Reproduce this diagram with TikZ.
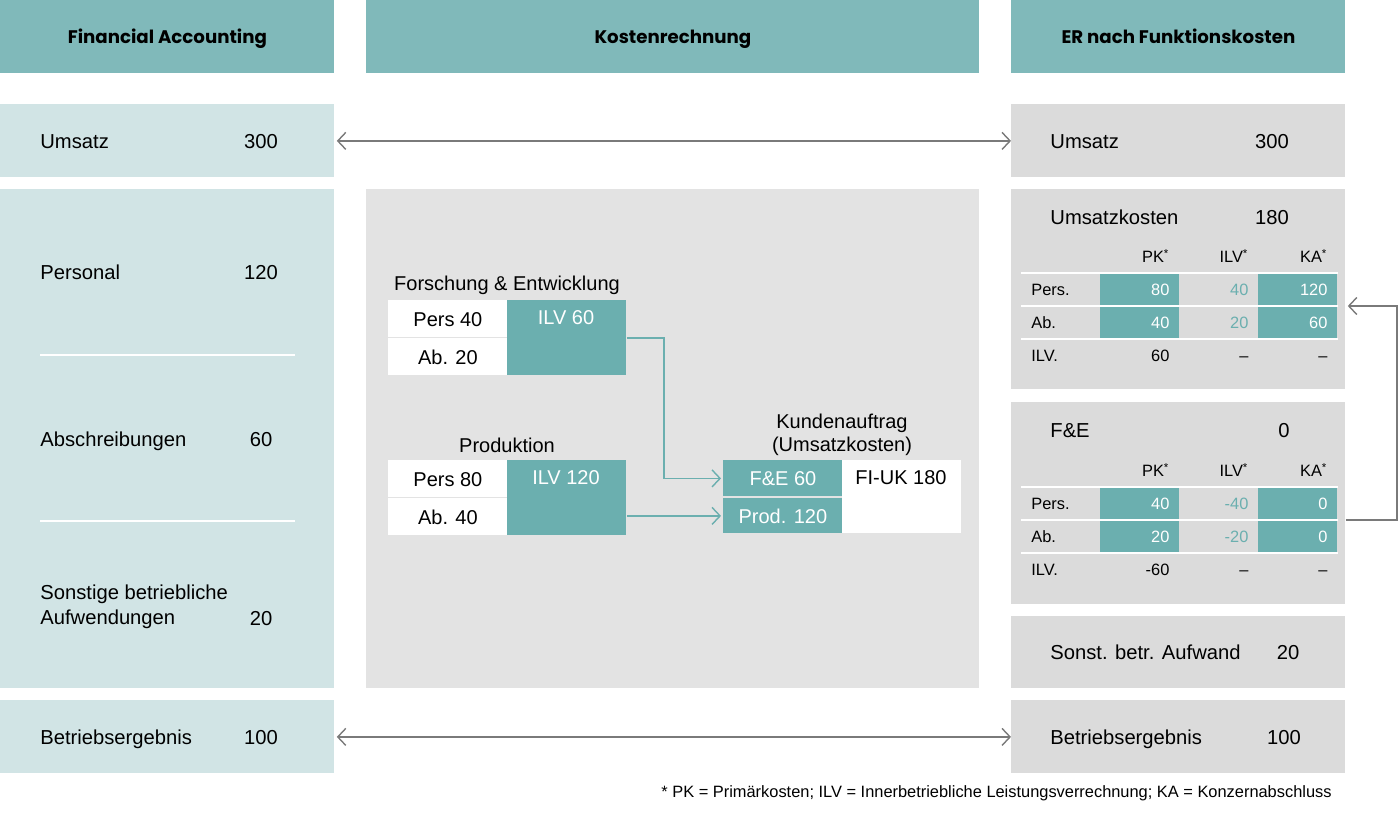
\documentclass[tikz,border=0pt]{standalone}
\usepackage{fontspec}
\setmainfont{Liberation Sans}
\newfontfamily\headfont{Poppins}
\usetikzlibrary{arrows.meta,matrix}
\definecolor{headteal}{HTML}{80B9BA}
\definecolor{paleteal}{HTML}{D1E4E5}
\definecolor{cellteal}{HTML}{6BAFAF}
\definecolor{panelgray}{HTML}{DBDBDB}
\definecolor{midgray}{HTML}{E3E3E3}
\definecolor{linkgray}{HTML}{7A7A7A}
\tikzset{
  box/.style={inner sep=0pt, anchor=north west, minimum width=167pt},
  head/.style={box, fill=headteal, minimum height=36.5pt, text height=6.4pt, text depth=0pt, font=\headfont\bfseries\fontsize{9.1}{10}\selectfont},
  fabox/.style={box, fill=paleteal},
  erbox/.style={box, fill=panelgray},
  itemtxt/.style={inner sep=0pt, anchor=west, text height=7.3pt, text depth=0pt, font=\fontsize{10.1}{12}\selectfont},
  valtxt/.style={inner sep=0pt, text height=7.3pt, text depth=0pt, font=\fontsize{10.1}{12}\selectfont},
  midtxt/.style={inner sep=0pt, font=\fontsize{10}{11.5}\selectfont, align=center},
  whitecell/.style={box, fill=white, minimum width=59.5pt, minimum height=18.5pt, text height=7.2pt, text depth=0pt, font=\fontsize{10}{12}\selectfont},
  tealcell/.style={box, fill=cellteal, text=white, minimum width=59.5pt, font=\fontsize{10}{12}\selectfont},
  sepline/.style={white, line width=1pt},
  tcell/.style={inner xsep=5pt, inner ysep=0pt, text width=29.5pt, align=right, minimum height=16.5pt, text height=5.9pt, text depth=0pt, font=\fontsize{8.2}{10}\selectfont},
  kcell/.style={fill=cellteal, text=white},
  icell/.style={text=cellteal},
  tab/.style={matrix of nodes, anchor=north west, inner sep=0pt, column sep=0pt, row sep=0pt, nodes={tcell}, column 1/.style={nodes={align=left}}},
  link/.style={linkgray, line width=0.7pt, {Straight Barb[length=4pt,width=8.5pt]}-{Straight Barb[length=4pt,width=8.5pt]}, shorten <=1pt},
  back/.style={linkgray, line width=0.7pt, -{Straight Barb[length=4pt,width=8.5pt]}, shorten >=1pt},
  flow/.style={cellteal, line width=0.7pt, -{Straight Barb[length=4pt,width=8.5pt]}, shorten >=1pt}
}

\begin{document}
\begin{tikzpicture}[x=0.5pt, y=-0.5pt]
  \useasboundingbox (0,0) rectangle (1400,815);
  % column heads
  \node[head] (fahead) at (0,0) {Financial Accounting};
  \node[head, minimum width=306.5pt] (krhead) at (366,0) {Kostenrechnung};
  \node[head] (erhead) at (1011,0) {ER nach Funktionskosten};

  % financial accounting
  \node[fabox, minimum height=36.5pt] (faumsatz) at (0,104) {};
  \node[itemtxt] (faumsatzlbl) at (40,141) {Umsatz};
  \node[valtxt] (faumsatzval) at (261,141) {300};
  \node[fabox, minimum height=249.5pt] (fakosten) at (0,189) {};
  \node[itemtxt] (fapers) at (40,272) {Personal};
  \node[valtxt] (fapersval) at (261,272) {120};
  \draw[sepline] (40,355) -- (295,355);
  \node[itemtxt] (faab) at (40,439) {Abschreibungen};
  \node[valtxt] (faabval) at (261,439) {60};
  \draw[sepline] (40,521) -- (295,521);
  \node[inner sep=0pt, anchor=west, align=left, font=\fontsize{10.1}{12.5}\selectfont] (fasonst) at (40,607) {Sonstige betriebliche\\Aufwendungen};
  \node[valtxt] (fasonstval) at (261,618) {20};
  \node[fabox, minimum height=36.5pt] (faergebnis) at (0,700) {};
  \node[itemtxt] (faergebnislbl) at (40,737) {Betriebsergebnis};
  \node[valtxt] (faergebnisval) at (261,737) {100};

  % Kostenrechnung
  \node[box, fill=midgray, minimum width=306.5pt, minimum height=249.5pt] (krpanel) at (366,189) {};
  \node[midtxt] (fetitle) at (507,285) {Forschung \& Entwicklung};
  \node[whitecell] (fepers) at (388,300) {Pers 40};
  \node[whitecell] (feab) at (388,338) {Ab. 20};
  \node[tealcell, minimum height=37.5pt] (feilv) at (507,300) {};
  \node[midtxt, text=white] (feilvtxt) at (566,318) {ILV 60};
  \node[midtxt] (prtitle) at (507,445) {Produktion};
  \node[whitecell] (prpers) at (388,460) {Pers 80};
  \node[whitecell] (prab) at (388,498) {Ab. 40};
  \node[tealcell, minimum height=37.5pt] (prilv) at (507,460) {};
  \node[midtxt, text=white] (prilvtxt) at (566,478) {ILV 120};
  \node[midtxt] (katitle) at (842,435) {Kundenauftrag\\(Umsatzkosten)};
  \node[tealcell, minimum height=18pt] (kafe) at (723,460) {F\&E 60};
  \node[tealcell, minimum height=17.5pt] (kaprod) at (723,498) {Prod. 120};
  \node[box, fill=white, minimum width=59.5pt, minimum height=36.5pt] (kauk) at (842,460) {};
  \node[midtxt] (kauktxt) at (901,478) {FI-UK 180};
  \draw[flow] (feilv.east) -- ++(37,0) |- (kafe.west);
  \draw[flow] (kaprod.west -| prilv.east) -- (kaprod.west);

  % ER nach Funktionskosten
  \node[erbox, minimum height=36.5pt] (erumsatz) at (1011,104) {};
  \node[itemtxt] (erumsatzlbl) at (1050,141) {Umsatz};
  \node[valtxt] (erumsatzval) at (1272,141) {300};
  \node[erbox, minimum height=100pt] (eruk) at (1011,189) {};
  \node[itemtxt] (eruklbl) at (1050,217) {Umsatzkosten};
  \node[valtxt] (erukval) at (1272,217) {180};
  \matrix (uktab) [tab] at (1021,240) {
    & PK\textsuperscript{*} & ILV\textsuperscript{*} & KA\textsuperscript{*} \\
    Pers. & |[kcell]| 80 & |[icell]| 40 & |[kcell]| 120 \\
    Ab. & |[kcell]| 40 & |[icell]| 20 & |[kcell]| 60 \\
    ILV. & 60 & -- & -- \\
  };
  \draw[sepline] (uktab-2-1.north west) -- (uktab-2-4.north east);
  \draw[sepline] (uktab-3-1.north west) -- (uktab-3-4.north east);
  \draw[sepline] (uktab-4-1.north west) -- (uktab-4-4.north east);
  \node[erbox, minimum height=101pt] (erfe) at (1011,402) {};
  \node[itemtxt] (erfelbl) at (1050,430) {F\&E};
  \node[valtxt] (erfeval) at (1284,430) {0};
  \matrix (fetab) [tab] at (1021,454) {
    & PK\textsuperscript{*} & ILV\textsuperscript{*} & KA\textsuperscript{*} \\
    Pers. & |[kcell]| 40 & |[icell]| -40 & |[kcell]| 0 \\
    Ab. & |[kcell]| 20 & |[icell]| -20 & |[kcell]| 0 \\
    ILV. & -60 & -- & -- \\
  };
  \draw[sepline] (fetab-2-1.north west) -- (fetab-2-4.north east);
  \draw[sepline] (fetab-3-1.north west) -- (fetab-3-4.north east);
  \draw[sepline] (fetab-4-1.north west) -- (fetab-4-4.north east);
  \node[erbox, minimum height=36pt] (ersonst) at (1011,616) {};
  \node[itemtxt] (ersonstlbl) at (1050,652) {Sonst. betr. Aufwand};
  \node[valtxt] (ersonstval) at (1288,652) {20};
  \node[erbox, minimum height=36.5pt] (erergebnis) at (1011,700) {};
  \node[itemtxt] (erergebnislbl) at (1050,737) {Betriebsergebnis};
  \node[valtxt] (erergebnisval) at (1284,737) {100};

  % links between the sides
  \draw[link] (faumsatz.east) -- (erumsatz.west);
  \draw[link] (faergebnis.east) -- (erergebnis.west);
  \draw[back] (erfe.east |- fetab-3-4.north) -- ++(51,0) |- (eruk.east |- uktab-3-4.north);

  \node[inner sep=0pt, anchor=east, font=\fontsize{8.2}{10}\selectfont] (footnote) at (1332,793) {* PK = Primärkosten; ILV = Innerbetriebliche Leistungsverrechnung; KA = Konzernabschluss};
\end{tikzpicture}
\end{document}
